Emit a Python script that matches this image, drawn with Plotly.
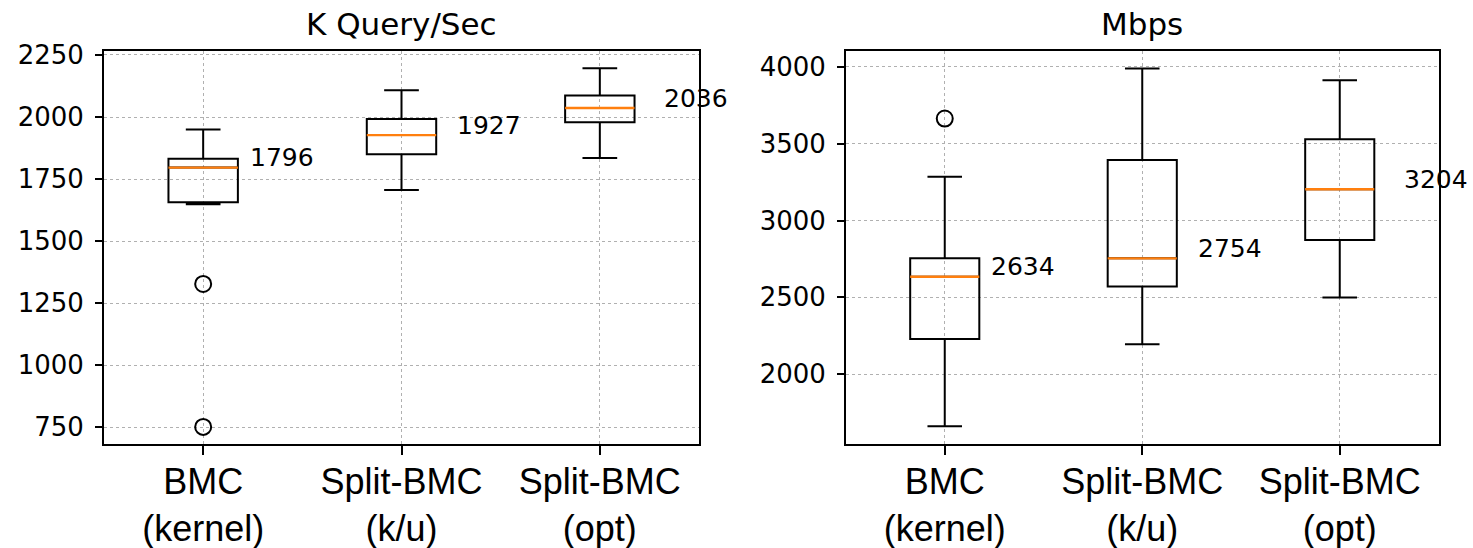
import plotly.graph_objects as go

# ---------------- data ----------------
categories = ["BMC<br>(kernel)", "Split-BMC<br>(k/u)", "Split-BMC<br>(opt)"]
positions = [1, 2, 3]

qps_title = "K Query/Sec"
qps_q1 = [1656, 1850, 1979]
qps_median = [1796, 1927, 2036]
qps_q3 = [1832, 1992, 2087]
qps_lower = [1648, 1706, 1835]
qps_upper = [1950, 2108, 2196]
qps_outlier_x = [1, 1]
qps_outlier_y = [1327, 751]

mbps_title = "Mbps"
mbps_q1 = [2228, 2570, 2873]
mbps_median = [2634, 2754, 3204]
mbps_q3 = [2754, 3394, 3530]
mbps_lower = [1660, 2195, 2499]
mbps_upper = [3285, 3990, 3914]
mbps_outlier_x = [1]
mbps_outlier_y = [3664]

# ---------------- styling ----------------
W, H = 1473, 548
BOX_W = 0.35
TICK_FONT = dict(family="DejaVu Sans", size=26, color="black")
CAT_FONT = dict(family="Liberation Sans, Arial", size=36, color="black")
LABEL_FONT = dict(family="DejaVu Sans", size=25, color="black")
TITLE_FONT = dict(family="DejaVu Sans", size=31, color="black")
ORANGE = "#ff7f0e"

fig = go.Figure()


def add_panel(xa, ya, q1, med, q3, lo, hi, ox, oy):
    fig.add_trace(go.Box(
        x=positions, q1=q1, median=med, q3=q3, lowerfence=lo, upperfence=hi,
        width=BOX_W, whiskerwidth=0.5, boxpoints=False,
        line=dict(color="black", width=2), fillcolor="rgba(0,0,0,0)",
        xaxis=xa, yaxis=ya, showlegend=False, hoverinfo="skip"))
    # orange median lines
    for p, m in zip(positions, med):
        fig.add_trace(go.Scatter(
            x=[p - BOX_W / 2, p + BOX_W / 2], y=[m, m], mode="lines",
            line=dict(color=ORANGE, width=2.4), xaxis=xa, yaxis=ya,
            showlegend=False, hoverinfo="skip"))
    # outliers
    fig.add_trace(go.Scatter(
        x=ox, y=oy, mode="markers",
        marker=dict(symbol="circle-open", size=16, color="black",
                    line=dict(width=2, color="black")),
        xaxis=xa, yaxis=ya, showlegend=False, hoverinfo="skip"))
    # median value labels
    for i, (p, m) in enumerate(zip(positions, med)):
        fig.add_annotation(
            x=p + 0.225 + 0.045 * i, y=m, xref=xa, yref=ya,
            text=str(m), showarrow=False, xanchor="left", yanchor="middle",
            yshift=10, font=LABEL_FONT)


add_panel("x", "y", qps_q1, qps_median, qps_q3, qps_lower, qps_upper,
          qps_outlier_x, qps_outlier_y)
add_panel("x2", "y2", mbps_q1, mbps_median, mbps_q3, mbps_lower, mbps_upper,
          mbps_outlier_x, mbps_outlier_y)

dom_y = [(H - 444) / H, (H - 51) / H]
dom_x1 = [104 / W, 699 / W]
dom_x2 = [846 / W, 1438.5 / W]

common_x = dict(
    range=[0.5, 3.5], tickmode="array", tickvals=positions, ticktext=categories,
    tickfont=CAT_FONT, ticks="outside", ticklen=9, tickwidth=1.5, tickcolor="black",
    ticklabelstandoff=-4,
    showline=True, mirror=True, linecolor="black", linewidth=2,
    showgrid=True, gridcolor="#b0b0b0", griddash="dot", gridwidth=1,
    zeroline=False, fixedrange=True, automargin=False)
common_y = dict(
    tickfont=TICK_FONT, ticks="outside", ticklen=7, tickwidth=1.5, tickcolor="black",
    ticklabelstandoff=6,
    showline=True, mirror=True, linecolor="black", linewidth=2,
    showgrid=True, gridcolor="#b0b0b0", griddash="dot", gridwidth=1,
    zeroline=False, fixedrange=True, automargin=False)

fig.update_layout(
    template="none",
    width=W, height=H,
    margin=dict(l=0, r=0, t=0, b=0, pad=0),
    paper_bgcolor="white", plot_bgcolor="white",
    showlegend=False,
    xaxis=dict(domain=dom_x1, anchor="y", **common_x),
    yaxis=dict(domain=dom_y, anchor="x", range=[682, 2266], tick0=750, dtick=250,
               **common_y),
    xaxis2=dict(domain=dom_x2, anchor="y2", **common_x),
    yaxis2=dict(domain=dom_y, anchor="x2", range=[1545, 4104], tick0=2000, dtick=500,
                **common_y),
)

for dom, title in [(dom_x1, qps_title), (dom_x2, mbps_title)]:
    fig.add_annotation(
        x=(dom[0] + dom[1]) / 2, y=1 - 24 / H, xref="paper", yref="paper",
        text=title, showarrow=False, xanchor="center", yanchor="middle",
        font=TITLE_FONT)

fig.write_html(
    "out.html",
    config={"displayModeBar": False},
    post_script="document.body.style.margin='0';document.body.style.overflow='hidden';",
)
